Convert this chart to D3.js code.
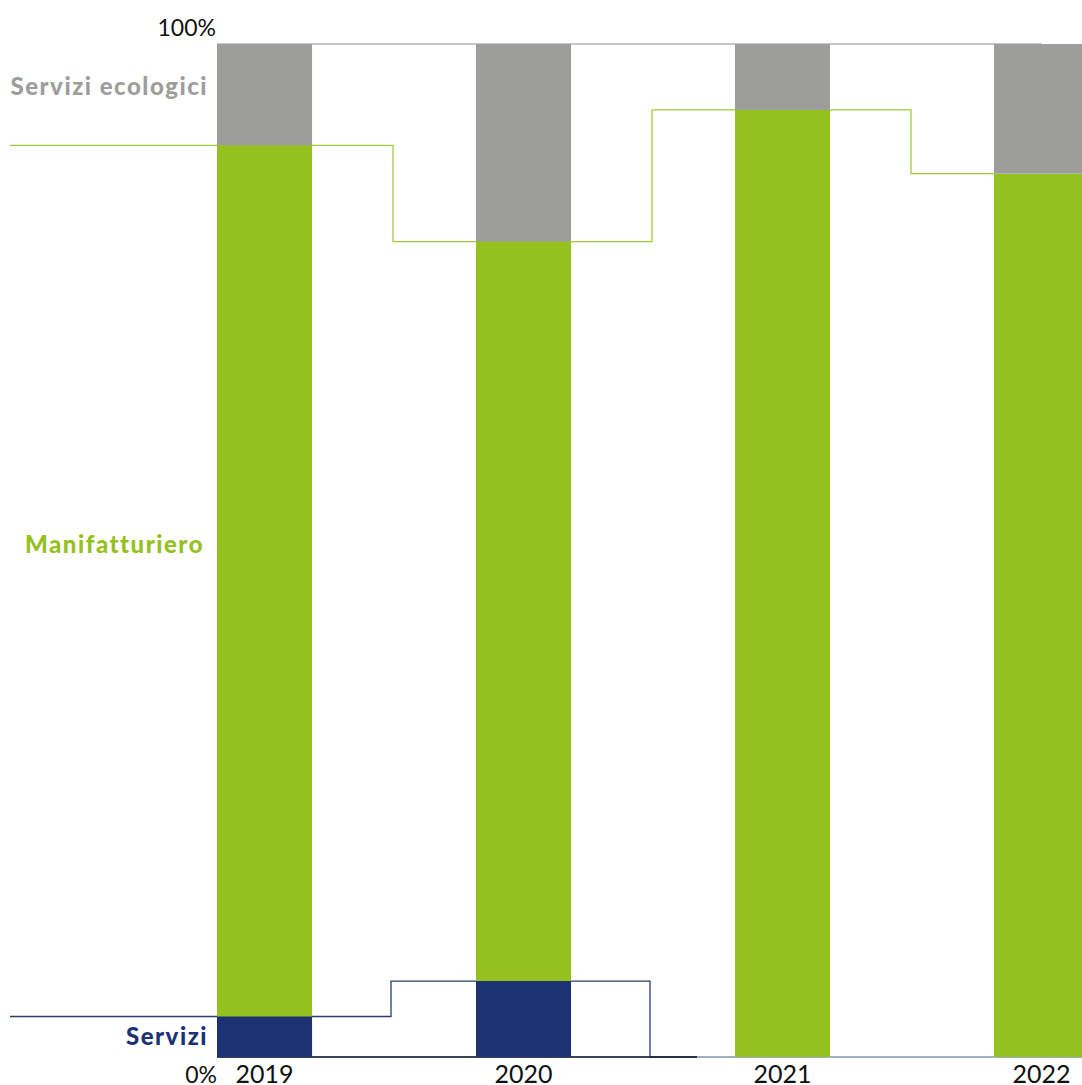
<!DOCTYPE html>
<html>
<head>
<meta charset="utf-8">
<script src="https://cdn.jsdelivr.net/npm/d3@7"></script>
<style>
  html, body { margin: 0; padding: 0; background: #fff; }
  svg { display: block; }
</style>
</head>
<body>
<svg id="chart" width="1082" height="1085"></svg>
<script>
// ---- data ----
const years = ["2019", "2020", "2021", "2022"];
const servizi = [4.0, 7.5, 0, 0];
const manifatturiero = [86.0, 73.0, 93.5, 87.2];
const serviziEcologici = [10.0, 19.5, 6.5, 12.8];
const seriesNames = ["Servizi", "Manifatturiero", "Servizi ecologici"];
const axisLabels = ["0%", "100%"];
const labelValues = [2.0, 50.6, 95.8]; // vertical position (in %) of the series names

// ---- layout ----
const W = 1082, H = 1085;
const svg = d3.select("#chart");
const x = d3.scaleBand().domain(years).range([217, 1089]).paddingInner(0.633).paddingOuter(0);
const y = d3.scaleLinear().domain([0, 100]).range([1057, 44]);
const colors = { "Servizi": "#1D3273", "Manifatturiero": "#95C11F", "Servizi ecologici": "#9D9D9C" };
const fontFam = "Lato, 'Noto Sans', sans-serif";

const table = years.map((yr, i) => ({
  year: yr,
  "Servizi": servizi[i],
  "Manifatturiero": manifatturiero[i],
  "Servizi ecologici": serviziEcologici[i]
}));
const stack = d3.stack().keys(seriesNames)(table);

// step lines (behind the bars)
function stepPoints(vals, startX, endX, shift) {
  const pts = [[startX, vals[0]]];
  for (let i = 0; i < vals.length - 1; i++) {
    const mid = (x(years[i]) + x.bandwidth() + x(years[i + 1])) / 2 + shift;
    pts.push([mid, vals[i]]);
    pts.push([mid, vals[i + 1]]);
  }
  pts.push([endX, vals[vals.length - 1]]);
  return pts;
}
const line = d3.line().x(d => d[0]).y(d => y(d[1]));

// top reference line
svg.append("line")
  .attr("x1", x(years[0])).attr("x2", x(years[3]) + x.bandwidth() / 2)
  .attr("y1", y(100)).attr("y2", y(100))
  .attr("stroke", "#b5b5b5").attr("stroke-width", 1.5);

// baseline
svg.append("line")
  .attr("x1", x(years[0])).attr("x2", W)
  .attr("y1", y(0)).attr("y2", y(0))
  .attr("stroke", "#8294b4").attr("stroke-width", 1.5);

const greenTops = years.map((_, i) => servizi[i] + manifatturiero[i]);
svg.append("path")
  .attr("d", line(stepPoints(greenTops, 10, x(years[3]), -1)))
  .attr("fill", "none").attr("stroke", "#A3CB38").attr("stroke-width", 1.3);

const navyStep = stepPoints(servizi.slice(0, 3), 10, x(years[2]) - 38, -3);
svg.append("path")
  .attr("d", line(navyStep))
  .attr("fill", "none").attr("stroke", "#2a3d73").attr("stroke-width", 1.3);
svg.append("line")
  .attr("x1", x(years[0])).attr("x2", x(years[2]) - 38)
  .attr("y1", y(0)).attr("y2", y(0))
  .attr("stroke", "#1e2233").attr("stroke-width", 1.5);

// bars
svg.append("g").selectAll("g").data(stack).join("g")
  .attr("fill", d => colors[d.key])
  .selectAll("rect").data(d => d).join("rect")
  .attr("x", d => x(d.data.year))
  .attr("width", x.bandwidth())
  .attr("y", d => y(d[1]))
  .attr("height", d => Math.max(0, y(d[0]) - y(d[1])));

// axis labels
svg.append("text").text(axisLabels[1])
  .attr("x", x(years[0]) - 1).attr("y", y(100) - 8)
  .attr("text-anchor", "end").attr("font-family", fontFam)
  .attr("font-size", 23).attr("fill", "#111");
svg.append("text").text(axisLabels[0])
  .attr("x", x(years[0])).attr("y", 1083)
  .attr("text-anchor", "end").attr("font-family", fontFam)
  .attr("font-size", 23).attr("fill", "#111");

// year labels
svg.append("g").selectAll("text").data(years).join("text")
  .text(d => d)
  .attr("x", d => x(d) + x.bandwidth() / 2)
  .attr("y", 1083)
  .attr("text-anchor", "middle").attr("font-family", fontFam)
  .attr("font-size", 25).attr("fill", "#111");

// series names on the left
svg.append("g").selectAll("text").data(seriesNames).join("text")
  .text(d => d)
  .attr("x", (d, i) => i === 1 ? 204 : 208)
  .attr("y", (d, i) => y(labelValues[i]))
  .attr("dy", "0.35em")
  .attr("text-anchor", "end").attr("font-family", fontFam)
  .attr("font-weight", 900).attr("font-size", 24)
  .attr("letter-spacing", 1.5)
  .attr("fill", d => colors[d]);
</script>
</body>
</html>
